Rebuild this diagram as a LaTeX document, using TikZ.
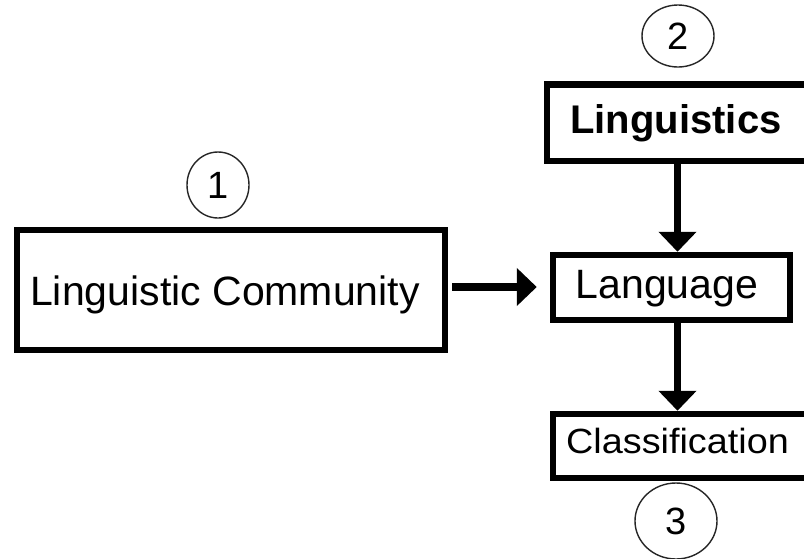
\documentclass[tikz,border=0pt]{standalone}
\usepackage{fontspec}
\setmainfont{Liberation Sans}
\usetikzlibrary{arrows.meta,shapes.geometric}
\tikzset{
  boxnode/.style={draw=black, line width=6.5pt, rectangle, inner sep=0pt, fill=white},
  num/.style={draw=black!85, line width=1.4pt, ellipse, inner sep=0pt, font=\fontsize{38}{44}\selectfont},
  lbl/.style={anchor=base, inner sep=0pt},
  arr/.style={line width=7.5pt, -{Triangle[width=37pt,length=20pt]}},
}
\begin{document}
\begin{tikzpicture}[x=1pt,y=-1pt]
\clip (0,0) rectangle (804,558);
\fill[white] (0,0) rectangle (804,558);
% boxes
\node[boxnode, minimum width=428pt, minimum height=120pt] (lc) at (231,290) {};
\node[boxnode, minimum width=283pt, minimum height=76.5pt] (ling) at (688.5,122.75) {};
\node[boxnode, minimum width=237pt, minimum height=65pt] (lang) at (671.5,287.5) {};
\node[boxnode, minimum width=277pt, minimum height=64pt] (cls) at (691.5,446) {};
% texts
\node[lbl, font=\fontsize{41}{48}\selectfont] (tlc) at (225,305) {Linguistic Community};
\node[lbl, font=\fontsize{40}{48}\selectfont\bfseries] (tling) at (676,133) {Linguistics};
\node[lbl, font=\fontsize{41}{48}\selectfont] (tlang) at (667,298) {Language};
\node[lbl, font=\fontsize{35}{42}\selectfont] (tcls) at (677.5,453) {\scalebox{1.08}[1]{Classification}};
% numbered circles
\node[num, minimum width=62pt, minimum height=66pt] (c1) at (218,185) {1};
\node[num, minimum width=72pt, minimum height=62pt] (c2) at (678,36) {2};
\node[num, minimum width=82pt, minimum height=76pt] (c3) at (676,521) {3};
% connectors
\coordinate (vx) at (677.5,0);
\coordinate (hy) at (0,287);
\draw[arr] (ling.south -| vx) -- (lang.north -| vx);
\draw[arr] (lang.south -| vx) -- (cls.north -| vx);
\draw[arr, shorten <=4pt, shorten >=13pt] (lc.east |- hy) -- (lang.west |- hy);
\end{tikzpicture}
\end{document}
